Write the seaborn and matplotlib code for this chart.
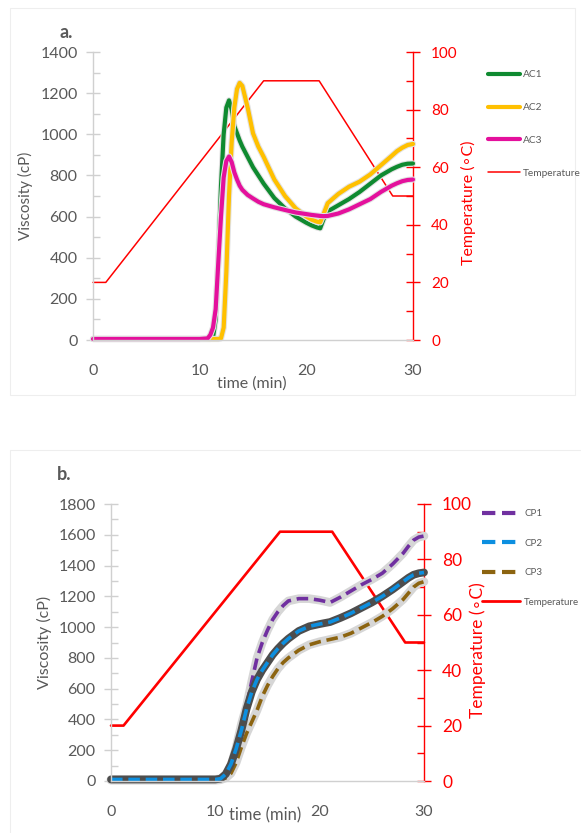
import numpy as np
import pandas as pd
import matplotlib
matplotlib.use("Agg")
import matplotlib.pyplot as plt
import seaborn as sns
from matplotlib.ticker import MultipleLocator
from matplotlib.lines import Line2D
from matplotlib.patches import Rectangle

sns.set_style("white")
plt.rcParams["font.family"] = ["Lato", "DejaVu Sans"]

# ---------------- Panel a data ----------------
time_a = [0, 10, 10.75, 11, 11.25, 11.5, 11.75, 12, 12.25, 12.5, 12.75, 13, 13.25, 13.5,
          13.75, 14, 14.5, 15, 15.5, 16, 17, 18, 19, 20, 20.5, 21, 21.3, 21.6, 22,
          23, 24, 25, 26, 27, 28, 28.5, 29, 29.5, 30]
ac1 = [5, 5, 5, 5, 12, 100, 400, 750, 1000, 1130, 1165, 1120, 1040, 1005,
       970, 940, 890, 840, 800, 760, 690, 640, 600, 570, 557, 547, 543, 585, 625,
       655, 685, 720, 760, 800, 830, 842, 852, 857, 858]
ac2 = [5, 5, 5, 5, 5, 5, 5, 8, 60, 330, 700, 960, 1130, 1220,
       1250, 1235, 1130, 1005, 940, 890, 780, 700, 640, 600, 585, 575, 572, 610, 665,
       710, 745, 770, 805, 850, 895, 918, 935, 948, 953]
ac3 = [5, 5, 8, 25, 60, 150, 380, 600, 790, 870, 892, 865, 815, 780,
       750, 730, 705, 688, 672, 660, 645, 632, 620, 612, 608, 605, 603, 602, 603,
       615, 635, 660, 685, 720, 750, 762, 772, 778, 780]
temp_time_a = [0, 1.2, 16, 21.2, 28.1, 30]
temp_a = [20, 20, 90, 90, 50, 50]

# ---------------- Panel b data ----------------
time_b = [0, 10, 10.5, 11, 11.5, 12, 12.5, 13, 13.5, 14, 14.5, 15, 15.5, 16, 16.5,
          17, 18, 19, 20, 21, 22, 23, 24, 25, 26, 27, 28, 28.5, 29, 29.5, 30]
cp1 = [10, 10, 15, 40, 100, 220, 370, 490, 650, 800, 900, 980, 1050, 1100, 1140,
       1170, 1185, 1185, 1175, 1160, 1195, 1235, 1275, 1310, 1350, 1410, 1480, 1525,
       1565, 1585, 1592]
cp2 = [10, 10, 15, 45, 110, 210, 330, 470, 580, 660, 720, 770, 820, 860, 895,
       925, 975, 1005, 1020, 1033, 1060, 1090, 1125, 1160, 1200, 1245, 1295, 1320,
       1340, 1350, 1355]
cp3 = [5, 5, 8, 20, 50, 120, 220, 310, 385, 460, 550, 620, 680, 730, 770,
       800, 850, 885, 905, 920, 935, 960, 995, 1030, 1070, 1120, 1180, 1220,
       1260, 1285, 1295]
temp_time_b = [0, 1.2, 16.2, 21.2, 28.2, 30]
temp_b = [20, 20, 90, 90, 50, 50]

labels_a = ["AC1", "AC2", "AC3", "Temperature"]
labels_b = ["CP1", "CP2", "CP3", "Temperature"]

GREEN = "#0f8a30"
YELLOW = "#ffc000"
MAGENTA = "#e4109c"
RED = "#ff0000"
PURPLE = "#7030a0"
BLUE = "#0c8fe0"
BROWN = "#8c6410"
GREY_TXT = "#595959"
AX_GREY = "#d0d0d0"

W, H = 581, 833
fig = plt.figure(figsize=(W / 100, H / 100), dpi=100)

# faint panel frames
for (x0, y0, x1, y1) in [(10, 8, 575, 395), (10, 450, 590, 840)]:
    fig.add_artist(Rectangle((x0 / W, 1 - y1 / H), (x1 - x0) / W, (y1 - y0) / H,
                             transform=fig.transFigure, fill=False,
                             edgecolor="#eeeeee", lw=0.8))


def draw(ax, t, v, color, lw, ls="-", halo=None, halo_lw=None):
    df = pd.DataFrame({"t": t, "v": v})
    if halo is not None:
        sns.lineplot(data=df, x="t", y="v", ax=ax, color=halo, linewidth=halo_lw,
                     estimator=None, sort=False, clip_on=False,
                     solid_capstyle="round", solid_joinstyle="round")
    sns.lineplot(data=df, x="t", y="v", ax=ax, color=color, linewidth=lw,
                 linestyle=ls, estimator=None, sort=False, clip_on=False,
                 solid_joinstyle="round")


def style_axes(ax, ax2, ymax, ymaj, ymin, tsize, rsize):
    ax.set_xlim(0, 30)
    ax.set_ylim(0, ymax)
    ax2.set_ylim(0, 100)
    for s in ["top", "right"]:
        ax.spines[s].set_visible(False)
    for s in ["left", "bottom"]:
        ax.spines[s].set_color(AX_GREY)
        ax.spines[s].set_linewidth(1)
    for s in ["top", "left", "bottom"]:
        ax2.spines[s].set_visible(False)
    ax2.spines["right"].set_color(RED)
    ax2.spines["right"].set_linewidth(1)
    ax.xaxis.set_major_locator(MultipleLocator(10))
    ax.xaxis.set_minor_locator(MultipleLocator(2))
    ax.yaxis.set_major_locator(MultipleLocator(ymaj))
    ax.yaxis.set_minor_locator(MultipleLocator(ymin))
    ax2.yaxis.set_major_locator(MultipleLocator(20))
    ax2.yaxis.set_minor_locator(MultipleLocator(10))
    ax.tick_params(which="major", direction="inout", length=10, width=1,
                   color=AX_GREY, labelcolor=GREY_TXT, labelsize=tsize, pad=6)
    ax.tick_params(which="minor", direction="in", length=5, width=1, color=AX_GREY)
    ax.tick_params(axis="x", pad=12)
    ax2.tick_params(which="major", direction="inout", length=10, width=1,
                    color=RED, labelcolor=RED, labelsize=rsize, pad=8)
    ax2.tick_params(which="minor", direction="in", length=5, width=1, color=RED)
    ax.grid(False)
    ax2.grid(False)


# ---------------- Panel a ----------------
axA = fig.add_axes([93 / W, 1 - 340 / H, 320 / W, 288 / H])
axA2 = axA.twinx()
axA.set_zorder(2)
axA2.set_zorder(1)
axA.patch.set_visible(False)

draw(axA, time_a, ac1, GREEN, 3.0, halo="#e2e2e2", halo_lw=4.5)
draw(axA, time_a, ac2, YELLOW, 3.0, halo="#e2e2e2", halo_lw=4.5)
draw(axA, time_a, ac3, MAGENTA, 3.0, halo="#e2e2e2", halo_lw=4.5)
draw(axA2, temp_time_a, temp_a, RED, 1.1)
style_axes(axA, axA2, 1400, 200, 100, 11.5, 11)

axA.set_xlabel("time (min)", fontsize=11.5, color=GREY_TXT)
axA.set_ylabel("Viscosity (cP)", fontsize=11, color=GREY_TXT)
axA2.set_ylabel("Temperature (\u2218C)", fontsize=11.5, color=RED)
axA.xaxis.label.set_va("center")
axA.yaxis.label.set_va("center")
axA2.yaxis.label.set_va("center")
axA.xaxis.set_label_coords(0.497, -0.152)
axA.yaxis.set_label_coords(-0.2125, 0.5)
axA2.yaxis.set_label_coords(1.172, 0.476)

fig.text(66 / W, 1 - 32 / H, "a.", fontsize=13, fontweight="bold", color=GREY_TXT,
         ha="center", va="center")

hA = [Line2D([], [], color=GREEN, lw=3), Line2D([], [], color=YELLOW, lw=3),
      Line2D([], [], color=MAGENTA, lw=3), Line2D([], [], color=RED, lw=1.1)]
fig.legend(hA, labels_a, loc="center left", bbox_to_anchor=(488 / W, 1 - 124 / H),
           frameon=False, fontsize=7.3, labelcolor=GREY_TXT, handlelength=3.2,
           handletextpad=0.2, labelspacing=2.35, borderpad=0, borderaxespad=0)

# ---------------- Panel b ----------------
axB = fig.add_axes([111 / W, 1 - 781 / H, 313 / W, 277 / H])
axB2 = axB.twinx()
axB.set_zorder(2)
axB2.set_zorder(1)
axB.patch.set_visible(False)

dash = (0, (3.2, 1.6))
draw(axB, time_b, cp1, PURPLE, 2.6, ls=dash, halo="#d6d6d6", halo_lw=6.2)
draw(axB, time_b, cp3, BROWN, 2.6, ls=dash, halo="#d6d6d6", halo_lw=6.2)
draw(axB, time_b, cp2, BLUE, 2.6, ls=dash, halo="#4d4d4d", halo_lw=5.6)
draw(axB2, temp_time_b, temp_b, RED, 1.9)
style_axes(axB, axB2, 1800, 200, 100, 11.5, 12.5)

axB.set_xlabel("time (min)", fontsize=12, color=GREY_TXT)
axB.set_ylabel("Viscosity (cP)", fontsize=11.5, color=GREY_TXT)
axB2.set_ylabel("Temperature (\u2218C)", fontsize=12.5, color=RED)
axB.xaxis.label.set_va("center")
axB.yaxis.label.set_va("center")
axB2.yaxis.label.set_va("center")
axB.xaxis.set_label_coords(0.492, -0.123)
axB.yaxis.set_label_coords(-0.211, 0.5)
axB2.yaxis.set_label_coords(1.172, 0.473)

fig.text(64 / W, 1 - 474 / H, "b.", fontsize=13, fontweight="bold", color=GREY_TXT,
         ha="center", va="center")

hB = [Line2D([], [], color=PURPLE, lw=3, ls=dash), Line2D([], [], color=BLUE, lw=3, ls=dash),
      Line2D([], [], color=BROWN, lw=3, ls=dash), Line2D([], [], color=RED, lw=2)]
fig.legend(hB, labels_b, loc="center left", bbox_to_anchor=(482 / W, 1 - 558 / H),
           frameon=False, fontsize=7, labelcolor=GREY_TXT, handlelength=3.9,
           handletextpad=0.45, labelspacing=2.1, borderpad=0, borderaxespad=0)

fig.savefig("out.png", dpi=100, facecolor="white")
